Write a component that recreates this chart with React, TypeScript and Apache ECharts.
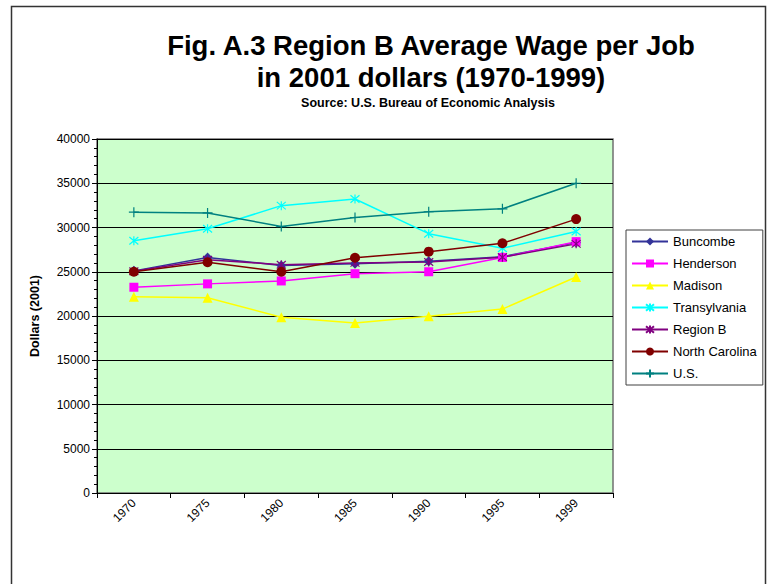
import React, { useEffect, useRef } from "react";
import * as echarts from "echarts";

const years = ["1970", "1975", "1980", "1985", "1990", "1995", "1999"];
const buncombe = [25100, 26600, 25700, 25900, 26200, 26700, 28300];
const henderson = [23250, 23630, 23960, 24780, 25000, 26620, 28400];
const madison = [22180, 22070, 19850, 19220, 19960, 20780, 24400];
const transylvania = [28500, 29850, 32470, 33220, 29300, 27660, 29550];
const regionB = [25050, 26350, 25800, 26000, 26100, 26650, 28150];
const northCarolina = [25000, 26070, 25000, 26580, 27270, 28220, 30950];
const us = [31730, 31650, 30110, 31130, 31780, 32110, 35000];
const yTicks = { min: 0, max: 40000, interval: 5000 };

const FONT = "'Liberation Sans', Arial, sans-serif";
const ASTER = "path://M0,0L10,10M10,0L0,10M5,-1L5,11";
const PLUS = "path://M5,0L5,10M0,5L10,5";

function mk(name: string, data: number[], color: string, symbol: string, size: number, stroke = false) {
  return {
    name,
    type: "line",
    data,
    symbol,
    symbolSize: size,
    lineStyle: { color, width: 1.5 },
    itemStyle: stroke
      ? { color: "rgba(0,0,0,0)", borderColor: color, borderWidth: 1.2 }
      : { color, borderColor: color, borderWidth: 0 },
    emphasis: { disabled: true },
  };
}

export default function App() {
  const ref = useRef<HTMLDivElement>(null);
  useEffect(() => {
    if (!ref.current) return;
    const chart = echarts.init(ref.current, undefined, { renderer: "svg" });
    chart.setOption({
      animation: false,
      backgroundColor: "#ffffff",
      textStyle: { fontFamily: FONT },
      title: [
        {
          text: "Fig. A.3 Region B Average Wage per Job\nin 2001 dollars (1970-1999)",
          left: 426,
          top: 24,
          textAlign: "center",
          textStyle: { fontSize: 27.5, fontWeight: "bold", color: "#000", lineHeight: 32, fontFamily: FONT },
        },
        {
          text: "Source: U.S. Bureau of Economic Analysis",
          left: 423,
          top: 91,
          textAlign: "center",
          textStyle: { fontSize: 12.5, fontWeight: "bold", color: "#000", fontFamily: FONT },
        },
      ],
      graphic: [
        {
          type: "rect",
          shape: { x: 11.5, y: 6.5, width: 754, height: 620 },
          style: { fill: "none", stroke: "#333", lineWidth: 1.5 },
          silent: true,
        },
      ],
      legend: {
        orient: "vertical",
        left: 626,
        top: 230,
        padding: [5, 6, 5, 5],
        itemWidth: 36,
        itemHeight: 10,
        itemGap: 9,
        borderColor: "#404040",
        borderWidth: 1,
        backgroundColor: "#fff",
        textStyle: { fontSize: 13, color: "#000", fontFamily: FONT },
        data: ["Buncombe", "Henderson", "Madison", "Transylvania", "Region B", "North Carolina", "U.S."],
      },
      grid: {
        left: 97,
        top: 139,
        right: 160,
        bottom: 91,
        show: true,
        backgroundColor: "#CCFFCC",
        borderColor: "#707070",
        borderWidth: 1.5,
      },
      xAxis: {
        type: "category",
        data: years,
        boundaryGap: true,
        axisLine: { lineStyle: { color: "#000", width: 1 } },
        axisTick: { show: true, length: 5, interval: 0, lineStyle: { color: "#000" } },
        axisLabel: { rotate: 45, fontSize: 12, color: "#000", margin: 8, interval: 0, fontFamily: FONT },
        splitLine: { show: false },
      },
      yAxis: {
        type: "value",
        min: yTicks.min,
        max: yTicks.max,
        interval: yTicks.interval,
        name: "Dollars (2001)",
        nameLocation: "middle",
        nameGap: 56,
        nameTextStyle: { fontSize: 12.5, fontWeight: "bold", color: "#000", fontFamily: FONT },
        axisLine: { show: true, lineStyle: { color: "#000", width: 1 } },
        axisTick: { show: true, length: 5, lineStyle: { color: "#000" } },
        minorTick: { show: true, splitNumber: 5, length: 3, lineStyle: { color: "#000" } },
        axisLabel: {
          fontSize: 12,
          color: "#000",
          margin: 7,
          fontFamily: FONT,
          formatter: (v: number) => String(v),
        },
        splitLine: { show: true, lineStyle: { color: "#000", width: 1 } },
      },
      series: [
        mk("Buncombe", buncombe, "#333399", "diamond", 10),
        mk("Henderson", henderson, "#FF00FF", "rect", 9),
        mk("Madison", madison, "#FFFF00", "triangle", 10),
        mk("Transylvania", transylvania, "#00FFFF", ASTER, 9, true),
        mk("Region B", regionB, "#800080", ASTER, 9, true),
        mk("North Carolina", northCarolina, "#800000", "circle", 10),
        mk("U.S.", us, "#008080", PLUS, 10, true),
      ],
    });
    return () => chart.dispose();
  }, []);
  return (
    <div
      ref={ref}
      style={{ position: "fixed", left: 0, top: 0, width: 773, height: 584, background: "#fff" }}
    />
  );
}
